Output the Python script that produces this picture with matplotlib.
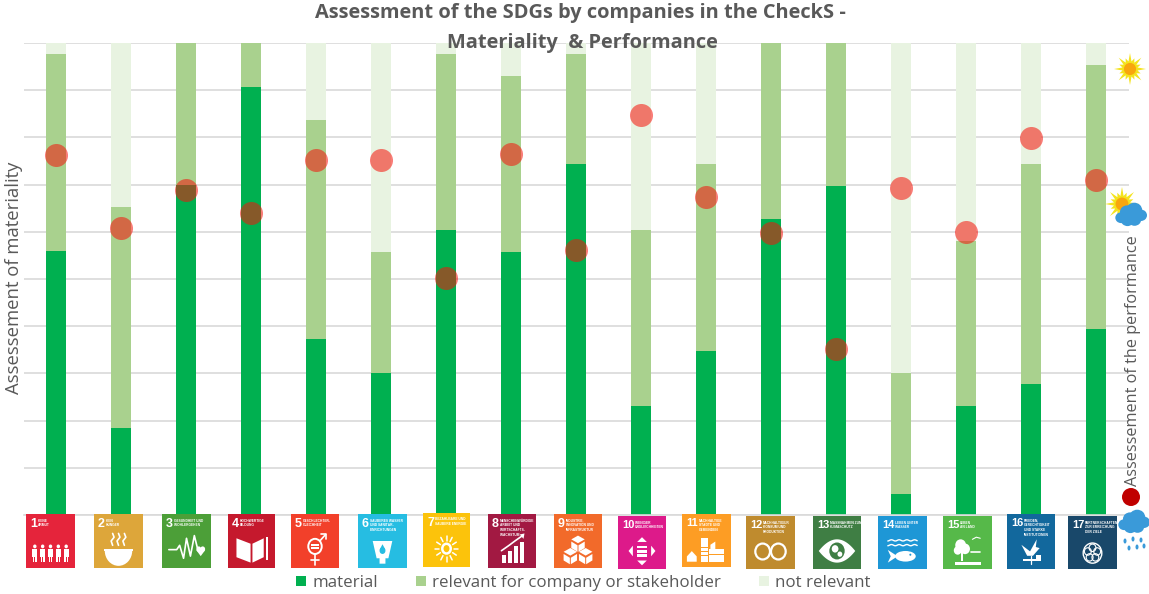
import matplotlib
matplotlib.use("Agg")
import matplotlib.pyplot as plt
import numpy as np
from matplotlib.patches import Circle, Ellipse, Polygon, Rectangle, Wedge
from matplotlib.transforms import Affine2D

goals = list(range(1, 18))
material = [56, 18.5, 70, 90.7, 37.3, 30, 60.4, 55.7, 74.4, 23, 34.7, 62.7, 69.7, 4.4, 23, 27.8, 39.4]
relevant = [41.7, 46.8, 30, 9.3, 46.4, 25.7, 37.3, 37.3, 23.3, 37.4, 39.7, 37.3, 30.3, 25.6, 35, 46.6, 55.9]
not_relevant = [2.3, 34.7, 0, 0, 16.3, 44.3, 2.3, 7, 2.3, 39.6, 25.6, 0, 0, 70, 42, 25.6, 4.7]
performance = [76.3, 60.8, 68.9, 63.9, 75.2, 75.2, 50.2, 76.5, 56.1, 84.7, 67.4, 59.7, 35.2, 69.3, 60, 79.9, 70.9]

goal_names = [
    "KEINE\nARMUT", "KEIN\nHUNGER", "GESUNDHEIT UND\nWOHLERGEHEN", "HOCHWERTIGE\nBILDUNG",
    "GESCHLECHTER-\nGLEICHHEIT", "SAUBERES WASSER\nUND SANITÄR-\nEINRICHTUNGEN",
    "BEZAHLBARE UND\nSAUBERE ENERGIE", "MENSCHENWÜRDIGE\nARBEIT UND\nWIRTSCHAFTS-\nWACHSTUM",
    "INDUSTRIE,\nINNOVATION UND\nINFRASTRUKTUR", "WENIGER\nUNGLEICHHEITEN",
    "NACHHALTIGE\nSTÄDTE UND\nGEMEINDEN", "NACHHALTIGE/R\nKONSUM UND\nPRODUKTION",
    "MASSNAHMEN ZUM\nKLIMASCHUTZ", "LEBEN UNTER\nWASSER", "LEBEN\nAN LAND",
    "FRIEDEN,\nGERECHTIGKEIT\nUND STARKE\nINSTITUTIONEN", "PARTNERSCHAFTEN\nZUR ERREICHUNG\nDER ZIELE",
]
tile_colors = ["#E5243B", "#DDA63A", "#4C9F38", "#C5192D", "#F2402A", "#26BDE2", "#FCC30B", "#A21942", "#F26A2A",
               "#DD1A8A", "#FD9D24", "#BF8B2E", "#3F7E44", "#1E97D6", "#56B949", "#12689D", "#19486A"]
# tile boxes in picture pixels: left, right, top, bottom
tile_boxes = [(26, 75, 514, 568), (94, 143, 514, 568), (162, 211, 514, 568), (228, 275, 514, 568),
              (291, 339, 514, 568), (358, 407, 514, 568), (423, 470, 513, 567), (488, 536, 514, 568),
              (554, 602, 514, 568), (618, 666, 516, 569), (682, 731, 514, 567), (746, 795, 516, 569),
              (813, 861, 516, 569), (878, 927, 516, 569), (943, 992, 516, 569), (1007, 1055, 514, 569),
              (1068, 1117, 516, 569)]

W, H = 1149, 594
GREEN = "#00B050"
MID = "#A9D18E"
PALE = "#E8F3E1"
GREY = "#595959"
plt.rcParams["font.family"] = ["Open Sans", "DejaVu Sans"]

fig = plt.figure(figsize=(W / 100, H / 100), dpi=100)
ax = fig.add_axes([23.5 / W, 1 - 515 / H, 1105 / W, 472 / H])

x = np.arange(len(goals))
w = 0.31
mat = np.array(material)
rel = np.array(relevant)
b1 = ax.bar(x, mat, w, color=GREEN, zorder=2, label="material")
b2 = ax.bar(x, rel, w, bottom=mat, color=MID, zorder=2, label="relevant for company or stakeholder")
b3 = ax.bar(x, not_relevant, w, bottom=mat + rel, color=PALE, zorder=2, label="not relevant")
ax.scatter(x, performance, s=275, color="#F51209", alpha=0.55, linewidths=0, zorder=3, clip_on=False)

ax.set_xlim(-0.5, 16.5)
ax.set_ylim(0, 100)
ax.set_yticks(np.arange(0, 101, 10))
ax.set_yticklabels([])
ax.set_xticks([])
ax.tick_params(left=False)
ax.grid(axis="y", color="#D9D9D9", lw=1.2, zorder=0)
for s in ["top", "left", "right"]:
    ax.spines[s].set_visible(False)
ax.spines["bottom"].set_color("#D9D9D9")
ax.spines["bottom"].set_linewidth(1.2)

fig.legend(handles=[b1, b2, b3], loc="center", bbox_to_anchor=(583.5 / W, 1 - 583 / H), ncol=3, frameon=False,
           fontsize=12.2, labelcolor=GREY, handlelength=0.6, handleheight=0.6, handletextpad=0.35,
           columnspacing=2.25, borderpad=0)

# everything around the plot is placed in picture pixels
ov = fig.add_axes([0, 0, 1, 1], zorder=5)
ov.set_xlim(0, W)
ov.set_ylim(H, 0)
ov.axis("off")
ov.patch.set_alpha(0)

ov.text(580, 13, "Assessment of the SDGs by companies in the CheckS -", ha="center", va="center",
        fontsize=14.4, fontweight="bold", color=GREY)
ov.text(582, 43, "Materiality  & Performance", ha="center", va="center", fontsize=14.4, fontweight="bold", color=GREY)
ov.text(14, 278, "Assessement of materiality", rotation=90, ha="center", va="center", fontsize=13.3, color=GREY)
ov.text(1133, 361, "Assessement of the performance", rotation=90, ha="center", va="center", fontsize=11.7, color=GREY)


def sun(cx, cy, r):
    a = np.linspace(0, 2 * np.pi, 33)[:-1]
    rad = np.select([np.arange(32) % 4 == 0, np.arange(32) % 4 == 2], [r, r * 0.72], r * 0.48)
    ov.add_patch(Polygon(np.c_[cx + rad * np.cos(a), cy + rad * np.sin(a)], color="#F4E31D", lw=0, zorder=6))
    ov.add_patch(Circle((cx, cy), r * 0.38, color="#F8A60E", lw=0, zorder=7))


def cloud(cx, cy, sx, sy):
    for dx, dy, r in [(-0.62, 0.18, 0.36), (-0.25, -0.2, 0.44), (0.2, -0.32, 0.5), (0.62, 0.02, 0.38),
                      (0.22, 0.3, 0.42), (-0.22, 0.32, 0.42)]:
        ov.add_patch(Ellipse((cx + dx * sx, cy + dy * sy), 2 * r * sx, 2 * r * sy, color="#3A9AD9", lw=0, zorder=8))


sun(1130, 69, 16)
sun(1122, 204, 17)
cloud(1131, 215, 16, 15)
ov.add_patch(Circle((1131, 497), 9, color="#C00000", lw=0, zorder=6))
cloud(1134, 522, 16, 15)
for dx, dy in [(-9, 19), (-1, 17), (7, 18), (-5, 26), (3, 25), (10, 24)]:
    ov.add_patch(Ellipse((1134 + dx, 522 + dy), 3, 5, color="#3A9AD9", lw=0, zorder=8))


def tile_glyph(n, t, bg):
    def add(p):
        p.set_transform(t)
        p.set_zorder(7)
        ov.add_patch(p)

    def line(u, v, lw=1.2, c="white"):
        ov.plot(u, v, color=c, lw=lw, transform=t, zorder=7, solid_capstyle="round")

    def rect(u, v, a, b, c="white"):
        add(Rectangle((u, v), a, b, fc=c, lw=0))

    def poly(pts, c="white"):
        add(Polygon(pts, fc=c, lw=0))

    def disc(u, v, r, c="white"):
        add(Circle((u, v), r, fc=c, lw=0))

    if n == 1:
        for u in [0.18, 0.34, 0.5, 0.66, 0.82]:
            disc(u, 0.6, 0.035)
            rect(u - 0.05, 0.65, 0.1, 0.14)
            rect(u - 0.04, 0.79, 0.03, 0.1)
            rect(u + 0.01, 0.79, 0.03, 0.1)
    elif n == 2:
        add(Wedge((0.5, 0.68), 0.28, 0, 180, fc="white", lw=0))
        rect(0.2, 0.65, 0.6, 0.04)
        for u in [0.38, 0.5, 0.62]:
            line([u, u - 0.03, u + 0.03, u], [0.58, 0.5, 0.43, 0.36])
    elif n == 3:
        line([0.14, 0.3, 0.36, 0.44, 0.5, 0.58, 0.66, 0.72], [0.66, 0.66, 0.58, 0.82, 0.45, 0.78, 0.4, 0.62])
        disc(0.75, 0.65, 0.05)
        disc(0.83, 0.65, 0.05)
        poly([(0.7, 0.67), (0.88, 0.67), (0.79, 0.78)])
    elif n == 4:
        poly([(0.18, 0.45), (0.48, 0.55), (0.48, 0.9), (0.18, 0.8)])
        poly([(0.52, 0.55), (0.76, 0.45), (0.76, 0.8), (0.52, 0.9)])
        rect(0.81, 0.42, 0.05, 0.43)
    elif n == 5:
        add(Circle((0.5, 0.6), 0.14, fc="none", ec="white", lw=1.4))
        rect(0.42, 0.56, 0.16, 0.03)
        rect(0.42, 0.62, 0.16, 0.03)
        line([0.5, 0.5], [0.74, 0.95])
        line([0.42, 0.58], [0.86, 0.86])
        line([0.6, 0.72], [0.5, 0.38])
        line([0.62, 0.73, 0.73], [0.37, 0.37, 0.47])
    elif n == 6:
        poly([(0.3, 0.5), (0.7, 0.5), (0.62, 0.82), (0.56, 0.82), (0.56, 0.92), (0.44, 0.92), (0.44, 0.82),
              (0.38, 0.82)])
        disc(0.5, 0.68, 0.06, bg)
        poly([(0.44, 0.66), (0.56, 0.66), (0.5, 0.56)], bg)
    elif n == 7:
        add(Circle((0.5, 0.66), 0.09, fc="none", ec="white", lw=1.8))
        for a in np.linspace(0, 2 * np.pi, 12, endpoint=False):
            line([0.5 + 0.15 * np.cos(a), 0.5 + 0.24 * np.cos(a)], [0.66 + 0.15 * np.sin(a), 0.66 + 0.24 * np.sin(a)],
                 lw=1.1)
    elif n == 8:
        for u, top in [(0.3, 0.75), (0.42, 0.68), (0.54, 0.6), (0.66, 0.52)]:
            rect(u, top, 0.08, 0.9 - top)
        line([0.28, 0.44, 0.56, 0.72], [0.68, 0.58, 0.5, 0.4])
        poly([(0.66, 0.38), (0.76, 0.36), (0.74, 0.46)])
    elif n == 9:
        for u, v in [(0.5, 0.52), (0.34, 0.75), (0.66, 0.75)]:
            poly([(u, v - 0.12), (u + 0.14, v - 0.05), (u, v + 0.02), (u - 0.14, v - 0.05)])
            poly([(u - 0.14, v - 0.01), (u - 0.01, v + 0.06), (u - 0.01, v + 0.18), (u - 0.14, v + 0.11)])
            poly([(u + 0.14, v - 0.01), (u + 0.01, v + 0.06), (u + 0.01, v + 0.18), (u + 0.14, v + 0.11)])
    elif n == 10:
        rect(0.39, 0.56, 0.22, 0.05)
        rect(0.39, 0.64, 0.22, 0.05)
        rect(0.39, 0.72, 0.22, 0.05)
        poly([(0.5, 0.4), (0.6, 0.49), (0.4, 0.49)])
        poly([(0.5, 0.93), (0.6, 0.84), (0.4, 0.84)])
        poly([(0.22, 0.66), (0.31, 0.56), (0.31, 0.76)])
        poly([(0.78, 0.66), (0.69, 0.56), (0.69, 0.76)])
    elif n == 11:
        rect(0.38, 0.46, 0.16, 0.44)
        rect(0.56, 0.66, 0.3, 0.24)
        poly([(0.1, 0.9), (0.1, 0.8), (0.2, 0.7), (0.3, 0.8), (0.3, 0.9)])
        poly([(0.58, 0.66), (0.58, 0.58), (0.68, 0.52), (0.68, 0.66)])
        for v in [0.54, 0.62, 0.7, 0.78]:
            rect(0.38, v, 0.16, 0.015, bg)
        rect(0.56, 0.76, 0.3, 0.015, bg)
    elif n == 12:
        add(Circle((0.34, 0.67), 0.15, fc="none", ec="white", lw=1.6))
        add(Circle((0.66, 0.67), 0.15, fc="none", ec="white", lw=1.6))
    elif n == 13:
        u = np.linspace(0.12, 0.88, 30)
        v = 0.22 * (1 - ((u - 0.5) / 0.38) ** 2)
        poly(np.r_[np.c_[u, 0.66 - v], np.c_[u[::-1], 0.66 + v[::-1]]])
        disc(0.5, 0.66, 0.16, bg)
        disc(0.46, 0.62, 0.07)
        disc(0.56, 0.72, 0.05)
    elif n == 14:
        u = np.linspace(0.2, 0.8, 30)
        for v in [0.46, 0.55]:
            line(u, v + 0.012 * np.sin(u * 40), lw=1)
        add(Ellipse((0.56, 0.76), 0.42, 0.2, fc="white", lw=0))
        poly([(0.2, 0.64), (0.4, 0.76), (0.2, 0.88), (0.26, 0.76)])
        disc(0.66, 0.73, 0.02, bg)
    elif n == 15:
        disc(0.36, 0.55, 0.11)
        disc(0.45, 0.62, 0.1)
        disc(0.3, 0.65, 0.08)
        rect(0.36, 0.65, 0.05, 0.2)
        rect(0.25, 0.86, 0.52, 0.06)
        line([0.58, 0.75], [0.68, 0.68])
        line([0.6, 0.68, 0.76], [0.44, 0.4, 0.42], lw=0.8)
    elif n == 16:
        poly([(0.3, 0.56), (0.48, 0.68), (0.62, 0.46), (0.6, 0.6), (0.68, 0.62), (0.54, 0.76), (0.42, 0.76)])
        rect(0.34, 0.82, 0.26, 0.03)
        rect(0.6, 0.75, 0.1, 0.1)
        line([0.5, 0.5], [0.76, 0.9], lw=0.9)
    elif n == 17:
        add(Circle((0.5, 0.7), 0.19, fc="none", ec="white", lw=1))
        for a in np.linspace(0, 2 * np.pi, 5, endpoint=False) - np.pi / 2:
            add(Circle((0.5 + 0.1 * np.cos(a), 0.7 + 0.1 * np.sin(a)), 0.07, fc="none", ec="white", lw=0.8))


for i, g in enumerate(goals):
    left, right, top, bottom = tile_boxes[i]
    bw, bh = right - left, bottom - top
    c = tile_colors[i]
    ov.add_patch(Rectangle((left, top), bw, bh, fc=c, lw=0, zorder=6))
    t = Affine2D().scale(bw, bh).translate(left, top) + ov.transData
    tile_glyph(g, t, c)
    ov.text(left + 4, top + 4, str(g), color="white", fontsize=9 if g < 10 else 8, fontweight="bold",
            family=["Liberation Sans"], ha="left", va="top", zorder=8)
    ov.text(left + (12 if g < 10 else 17), top + 4.5, goal_names[i], color="white", fontsize=2.3, fontweight="bold",
            family=["Liberation Sans"], ha="left", va="top", linespacing=1.3, zorder=8)

fig.savefig("out.png", dpi=100)
